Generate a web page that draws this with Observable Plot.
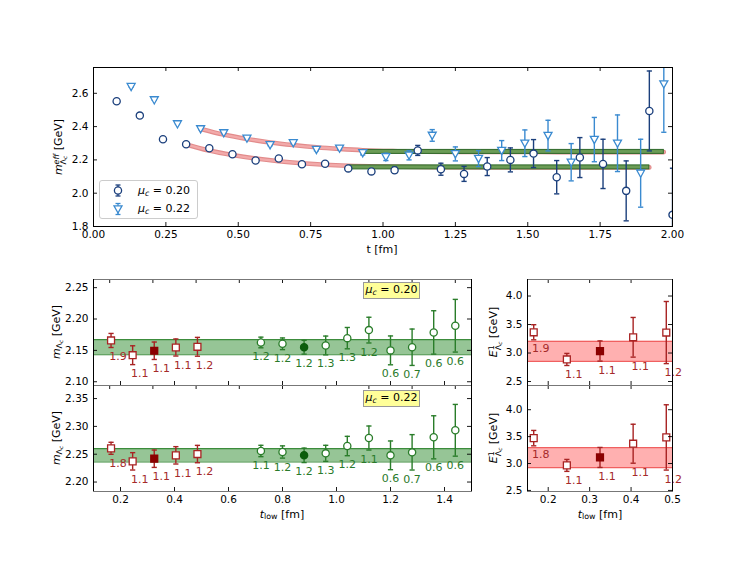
<!DOCTYPE html>
<html><head><meta charset="utf-8">
<script src="https://cdn.jsdelivr.net/npm/d3@7"></script>
<script src="https://cdn.jsdelivr.net/npm/@observablehq/plot@0.6"></script>
<style>
body{margin:0;background:#fff;}
#fig{position:relative;width:747px;height:561px;overflow:hidden;font-family:"DejaVu Sans",sans-serif;background:#fff;}
#fig svg.pl{position:absolute !important;left:0;top:0;background:transparent !important;}
.lab{position:absolute;font-size:11px;white-space:nowrap;color:#000;line-height:1;}
.rot{transform:translate(-50%,-50%) rotate(-90deg);}
.ctr{transform:translate(-50%,-50%);}
.stk{display:inline-block;vertical-align:-0.45em;line-height:0.9;font-size:0.72em;text-align:left;}
sub{font-size:0.72em;vertical-align:-0.25em;line-height:0;}
.ybox{position:absolute;background:#ffff99;border:1px solid #999;font-size:11px;line-height:14px;text-align:center;width:55px;height:15px;}
#legend{position:absolute;left:99px;top:180px;width:97px;height:37px;border:1px solid #ccc;border-radius:3px;background:#fff;}
</style></head><body><div id="fig"></div>
<script>
// ---------------- data ----------------
// top panel: effective mass
const topT020 = [0.08,0.16,0.24,0.32,0.40,0.48,0.56,0.64,0.72,0.80,0.88,0.96,1.04,1.12,1.20,1.28,1.36,1.44,1.52,1.60,1.68,1.76,1.84,1.92,2.00];
const topM020 = [2.552,2.466,2.324,2.294,2.270,2.234,2.196,2.208,2.174,2.177,2.149,2.131,2.138,2.257,2.144,2.116,2.160,2.200,2.238,2.096,2.214,2.176,2.014,2.494,1.870];
const topE020 = [0.002,0.002,0.003,0.003,0.004,0.004,0.005,0.006,0.007,0.008,0.010,0.014,0.018,0.030,0.036,0.045,0.054,0.072,0.084,0.100,0.120,0.148,0.180,0.240,0.280];
const topT022 = [0.13,0.21,0.29,0.37,0.45,0.53,0.61,0.69,0.77,0.85,0.93,1.01,1.09,1.17,1.25,1.33,1.41,1.49,1.57,1.65,1.73,1.81,1.89,1.97];
const topM022 = [2.640,2.560,2.416,2.386,2.362,2.330,2.290,2.302,2.262,2.270,2.242,2.218,2.228,2.347,2.236,2.208,2.256,2.300,2.346,2.186,2.322,2.300,2.120,2.656];
const topE022 = [0.002,0.002,0.003,0.003,0.004,0.004,0.005,0.006,0.007,0.009,0.012,0.022,0.028,0.035,0.042,0.048,0.060,0.080,0.092,0.112,0.133,0.170,0.204,0.290];
// two-state fit curves
const fitT020 = [0.32,0.40,0.48,0.56,0.64,0.72,0.80,0.88,1.00,1.20,1.50,1.92];
const fitM020 = [2.293,2.256,2.229,2.208,2.192,2.180,2.171,2.165,2.160,2.156,2.155,2.155];
const fitT022 = [0.37,0.45,0.53,0.61,0.69,0.77,0.85,0.93,1.05,1.25,1.60,1.97];
const fitM022 = [2.386,2.352,2.326,2.305,2.289,2.276,2.266,2.258,2.252,2.248,2.247,2.247];
// plateau ranges [t start, t end]
const plateauT020 = [0.88, 1.92];
const plateauT022 = [0.93, 1.97];
// ground-state mass bands [lo, hi]
const band020 = [2.143, 2.167];
const band022 = [2.236, 2.260];
// t_low scans
const redT = [0.165,0.245,0.325,0.405,0.485];
const redM020 = [2.1658,2.1423,2.1494,2.1546,2.1557];
const redE020 = [0.0112,0.0150,0.0139,0.0136,0.0150];
const redChi020 = ["1.9","1.1","1.1","1.1","1.2"];
const redM022 = [2.2606,2.2372,2.2419,2.2480,2.2503];
const redE022 = [0.0108,0.0156,0.0156,0.0156,0.0156];
const redChi022 = ["1.8","1.1","1.1","1.1","1.2"];
const greenT = [0.72,0.80,0.88,0.96,1.04,1.12,1.20,1.28,1.36,1.44];
const greenM020 = [2.1626,2.1605,2.1550,2.1578,2.1695,2.1823,2.1500,2.1550,2.1786,2.1893];
const greenE020 = [0.0085,0.0093,0.0110,0.0150,0.0170,0.0205,0.0230,0.0290,0.0346,0.0420];
const greenChi020 = ["1.2","1.2","1.2","1.3","1.3","1.2","0.6","0.7","0.6","0.6"];
const greenM022 = [2.2558,2.2540,2.2480,2.2516,2.2647,2.2791,2.2480,2.2534,2.2804,2.2930];
const greenE022 = [0.0102,0.0110,0.0130,0.0144,0.0174,0.0216,0.0258,0.0318,0.0387,0.0465];
const greenChi022 = ["1.1","1.2","1.2","1.3","1.2","1.1","0.6","0.7","0.6","0.6"];
const chosenRedT = 0.325, chosenGreenT = 0.88;
// first excited state
const eM020 = [3.364,2.887,3.035,3.276,3.359];
const eE020 = [0.1325,0.106,0.177,0.348,0.545];
const eM022 = [3.472,2.965,3.113,3.368,3.485];
const eE022 = [0.143,0.111,0.186,0.362,0.607];
const eBand020 = [2.852, 3.205];
const eBand022 = [2.922, 3.294];
// ticks
const topXTicks = [0,0.25,0.5,0.75,1,1.25,1.5,1.75,2];
const topYTicks = [1.8,2.0,2.2,2.4,2.6];
const lowXTicks = [0.2,0.4,0.6,0.8,1.0,1.2,1.4];
const lowXTopTicks = [0.16,0.32,0.48,0.64,0.80,0.96,1.12,1.28,1.44];
const mYTicks020 = [2.10,2.15,2.20,2.25];
const mYTicks022 = [2.20,2.25,2.30,2.35];
const eXTicks = [0.2,0.3,0.4,0.5];
const eYTicks = [2.5,3.0,3.5,4.0];

// ---------------- helpers ----------------
const W = 747, H = 561;
const zip = (t, m, e, c) => t.map((x, i) => ({t: x, m: m[i], e: e[i], c: c ? c[i] : null}));
const cap = {draw(ctx, size) { const w = Math.sqrt(size / Math.PI); ctx.moveTo(-w, 0); ctx.lineTo(w, 0); }};
const triDown = {draw(ctx, size) { const r = Math.sqrt(size / Math.PI); ctx.moveTo(-r, -r * 0.8); ctx.lineTo(r, -r * 0.8); ctx.lineTo(0, r); ctx.closePath(); }};

function errMarks(data, stroke, opts = {}) {
  const sw = opts.sw ?? 1.4, cr = opts.cr ?? 2.6, clip = opts.clip ?? false;
  return [
    Plot.ruleX(data, {x: "t", y1: d => d.m - d.e, y2: d => d.m + d.e, stroke, strokeWidth: sw, clip}),
    Plot.dot(data, {x: "t", y: d => d.m + d.e, symbol: cap, r: cr, stroke, strokeWidth: sw, clip}),
    Plot.dot(data, {x: "t", y: d => d.m - d.e, symbol: cap, r: cr, stroke, strokeWidth: sw, clip})
  ];
}

function panel(o) {
  const fw = W - o.mL - o.mR, fh = H - o.mT - o.mB;
  const tk = 4;
  const marks = [
    ...o.marks,
    Plot.tickX(o.xTicks, {x: d => d, insetTop: fh - tk, stroke: "black", strokeWidth: 0.9}),
    Plot.tickX(o.xTopTicks, {x: d => d, insetBottom: fh - tk, stroke: "black", strokeWidth: 0.9}),
    Plot.tickY(o.yTicks, {y: d => d, insetRight: fw - tk, stroke: "black", strokeWidth: 0.9}),
    Plot.tickY(o.yTicks, {y: d => d, insetLeft: fw - tk, stroke: "black", strokeWidth: 0.9}),
    Plot.axisY(o.yTicks, {tickSize: 0, tickPadding: 5, tickFormat: d3.format(o.yFmt), label: null, fontSize: 10.5}),
    Plot.frame({stroke: o.hStroke || "black", strokeWidth: 1}),
    Plot.ruleX(o.xDomain, {stroke: "black", strokeWidth: 1})
  ];
  if (o.xLabels) marks.push(Plot.axisX(o.xTicks, {tickSize: 0, tickPadding: 4, tickFormat: d3.format(o.xFmt), label: null, fontSize: 10.5}));
  const svg = Plot.plot({
    width: W, height: H,
    marginLeft: o.mL, marginRight: o.mR, marginTop: o.mT, marginBottom: o.mB,
    style: {fontFamily: "DejaVu Sans, sans-serif", fontSize: "10.5px", color: "black", background: "transparent"},
    x: {domain: o.xDomain, axis: null},
    y: {domain: o.yDomain, axis: null},
    marks
  });
  svg.classList.add("pl");
  return svg;
}

const fig = document.getElementById("fig");

// ---------------- top panel ----------------
const c020 = "#1b3f7c", c022 = "#3a8ad0";
const d020 = zip(topT020, topM020, topE020);
const d022 = zip(topT022, topM022, topE022);
const f020 = fitT020.map((t, i) => ({t, m: fitM020[i]}));
const f022 = fitT022.map((t, i) => ({t, m: fitM022[i]}));
const plat = [
  {a: plateauT020[0], b: plateauT020[1], lo: band020[0], hi: band020[1]},
  {a: plateauT022[0], b: plateauT022[1], lo: band022[0], hi: band022[1]}
];
fig.appendChild(panel({
  mL: 93, mR: 75, mT: 67, mB: 335,
  xDomain: [0, 2], yDomain: [1.8, 2.755],
  xTicks: topXTicks, xTopTicks: topXTicks, yTicks: topYTicks, xFmt: ".2f", yFmt: ".1f", xLabels: true,
  marks: [
    ...[f020, f022].flatMap(f => [
      Plot.line(f, {x: "t", y: "m", stroke: "#d65a5a", strokeWidth: 4.6, strokeOpacity: 0.7, curve: "monotone-x"}),
      Plot.line(f, {x: "t", y: "m", stroke: "#f2aaaa", strokeWidth: 2.4, curve: "monotone-x"})
    ]),
    Plot.rect(plat, {x1: "a", x2: "b", y1: "lo", y2: "hi", fill: "#5c9a4c", fillOpacity: 0.9, stroke: "#2f6a2a", strokeWidth: 1}),
    ...errMarks(d020, c020, {clip: true}),
    ...errMarks(d022, c022, {clip: true}),
    Plot.dot(d020, {x: "t", y: "m", r: 3.6, fill: "white", stroke: c020, strokeWidth: 1.3, clip: true}),
    Plot.dot(d022, {x: "t", y: "m", r: 4, symbol: triDown, fill: "white", stroke: c022, strokeWidth: 1.3, clip: true})
  ]
}));

// ---------------- bottom panels ----------------
const red = "#a82323", redFill = "#8b0000", redTxt = "#a52a2a";
const grn = "#2a7d2a", grnFill = "#0b5d0b", grnTxt = "#2a7a2a";

function scanMarks(band, rd, gd, xDomain) {
  const bandRow = [{a: xDomain[0], b: xDomain[1], lo: band[0], hi: band[1]}];
  return [
    Plot.rect(bandRow, {x1: "a", x2: "b", y1: "lo", y2: "hi", fill: "#2e8b2e", fillOpacity: 0.5}),
    Plot.ruleY(band, {stroke: "#3c8c3c", strokeWidth: 1.2}),
    ...errMarks(rd, red),
    ...errMarks(gd, grn),
    Plot.dot(rd.filter(d => d.t !== chosenRedT), {x: "t", y: "m", symbol: "square", r: 3.9, fill: "white", stroke: red, strokeWidth: 1.3}),
    Plot.dot(rd.filter(d => d.t === chosenRedT), {x: "t", y: "m", symbol: "square", r: 3.9, fill: redFill, stroke: redFill, strokeWidth: 1.3}),
    Plot.dot(gd.filter(d => d.t !== chosenGreenT), {x: "t", y: "m", r: 3.6, fill: "white", stroke: grn, strokeWidth: 1.3}),
    Plot.dot(gd.filter(d => d.t === chosenGreenT), {x: "t", y: "m", r: 3.6, fill: grnFill, stroke: grnFill, strokeWidth: 1.3}),
    Plot.text(rd, {x: "t", y: d => d.m - d.e, text: "c", dy: 9, dx: 7, fill: redTxt, fontSize: 11, lineAnchor: "middle"}),
    Plot.text(gd, {x: "t", y: d => d.m - d.e, text: "c", dy: 9, fill: grnTxt, fontSize: 11, lineAnchor: "middle"})
  ];
}

function eMarks(band, ed, xDomain) {
  const bandRow = [{a: xDomain[0], b: xDomain[1], lo: band[0], hi: band[1]}];
  return [
    Plot.rect(bandRow, {x1: "a", x2: "b", y1: "lo", y2: "hi", fill: "#ff7070", fillOpacity: 0.55}),
    Plot.ruleY(band, {stroke: "#f06060", strokeWidth: 1.2}),
    ...errMarks(ed, red),
    Plot.dot(ed.filter(d => d.t !== chosenRedT), {x: "t", y: "m", symbol: "square", r: 3.9, fill: "white", stroke: red, strokeWidth: 1.3}),
    Plot.dot(ed.filter(d => d.t === chosenRedT), {x: "t", y: "m", symbol: "square", r: 3.9, fill: redFill, stroke: redFill, strokeWidth: 1.3}),
    Plot.text(ed, {x: "t", y: d => d.m - d.e, text: "c", dy: 9, dx: 7, fill: redTxt, fontSize: 11, lineAnchor: "middle"})
  ];
}

const lx = [0.1, 1.5], rx = [0.15, 0.5];
fig.appendChild(panel({
  mL: 93, mR: 276, mT: 279, mB: 176, xDomain: lx, yDomain: [2.094, 2.263], hStroke: "#777",
  xTicks: lowXTicks, xTopTicks: lowXTopTicks, yTicks: mYTicks020, xFmt: ".1f", yFmt: ".2f", xLabels: false,
  marks: scanMarks(band020, zip(redT, redM020, redE020, redChi020), zip(greenT, greenM020, greenE020, greenChi020), lx)
}));
fig.appendChild(panel({
  mL: 93, mR: 276, mT: 385, mB: 70, xDomain: lx, yDomain: [2.183, 2.3735], hStroke: "#777",
  xTicks: lowXTicks, xTopTicks: lowXTopTicks, yTicks: mYTicks022, xFmt: ".1f", yFmt: ".2f", xLabels: true,
  marks: scanMarks(band022, zip(redT, redM022, redE022, redChi022), zip(greenT, greenM022, greenE022, greenChi022), lx)
}));
fig.appendChild(panel({
  mL: 527, mR: 75, mT: 279, mB: 176, xDomain: rx, yDomain: [2.43, 4.29], hStroke: "#777",
  xTicks: eXTicks, xTopTicks: eXTicks, yTicks: eYTicks, xFmt: ".1f", yFmt: ".1f", xLabels: false,
  marks: eMarks(eBand020, zip(redT, eM020, eE020, redChi020), rx)
}));
fig.appendChild(panel({
  mL: 527, mR: 75, mT: 385, mB: 70, xDomain: rx, yDomain: [2.48, 4.45], hStroke: "#777",
  xTicks: eXTicks, xTopTicks: eXTicks, yTicks: eYTicks, xFmt: ".1f", yFmt: ".1f", xLabels: true,
  marks: eMarks(eBand022, zip(redT, eM022, eE022, redChi022), rx)
}));

// ---------------- text overlays ----------------
function addLab(html, x, y, cls) {
  const d = document.createElement("div");
  d.className = "lab " + cls;
  d.style.left = x + "px"; d.style.top = y + "px";
  d.innerHTML = html;
  fig.appendChild(d);
}
const mLam = '<i>m</i><sub>Λ<sub><i>c</i></sub></sub> [GeV]';
addLab('<i>m</i><span class="stk"><i>eff</i><br>Λ<sub><i>c</i></sub></span> [GeV]', 60, 147, "rot");
addLab('t [fm]', 382, 249, "ctr");
addLab(mLam, 56, 332, "rot");
addLab(mLam, 56, 438, "rot");
addLab('<i>E</i><span class="stk">1<br>Λ<sub><i>c</i></sub></span> [GeV]', 495, 332, "rot");
addLab('<i>E</i><span class="stk">1<br>Λ<sub><i>c</i></sub></span> [GeV]', 495, 438, "rot");
addLab('<i>t</i><sub>low</sub> [fm]', 282, 514, "ctr");
addLab('<i>t</i><sub>low</sub> [fm]', 600, 514, "ctr");

const muLabels = ["0.20", "0.22"];
[[363, 282], [363, 390]].forEach(([x, y], i) => {
  const b = document.createElement("div");
  b.className = "ybox";
  b.style.left = x + "px"; b.style.top = y + "px";
  b.innerHTML = '<i>μ</i><sub><i>c</i></sub> = ' + muLabels[i];
  fig.appendChild(b);
});

// legend
const lg = document.createElement("div");
lg.id = "legend";
lg.innerHTML =
  '<svg width="30" height="37" style="position:absolute;left:5px;top:0">' +
  `<g stroke="${c020}" stroke-width="1.3" fill="white"><line x1="13" x2="13" y1="4" y2="15"/><line x1="10.5" x2="15.5" y1="4" y2="4"/><line x1="10.5" x2="15.5" y1="15" y2="15"/><circle cx="13" cy="9.5" r="3.6"/></g>` +
  `<g stroke="${c022}" stroke-width="1.3" fill="white"><line x1="13" x2="13" y1="22.5" y2="33.5"/><line x1="10.5" x2="15.5" y1="22.5" y2="22.5"/><line x1="10.5" x2="15.5" y1="33.5" y2="33.5"/><path d="M9,24.8 L17,24.8 L13,32 Z"/></g></svg>` +
  '<div class="lab" style="left:38px;top:4px"><i>μ</i><sub><i>c</i></sub> = 0.20</div>' +
  '<div class="lab" style="left:38px;top:22px"><i>μ</i><sub><i>c</i></sub> = 0.22</div>';
fig.appendChild(lg);
</script></body></html>
